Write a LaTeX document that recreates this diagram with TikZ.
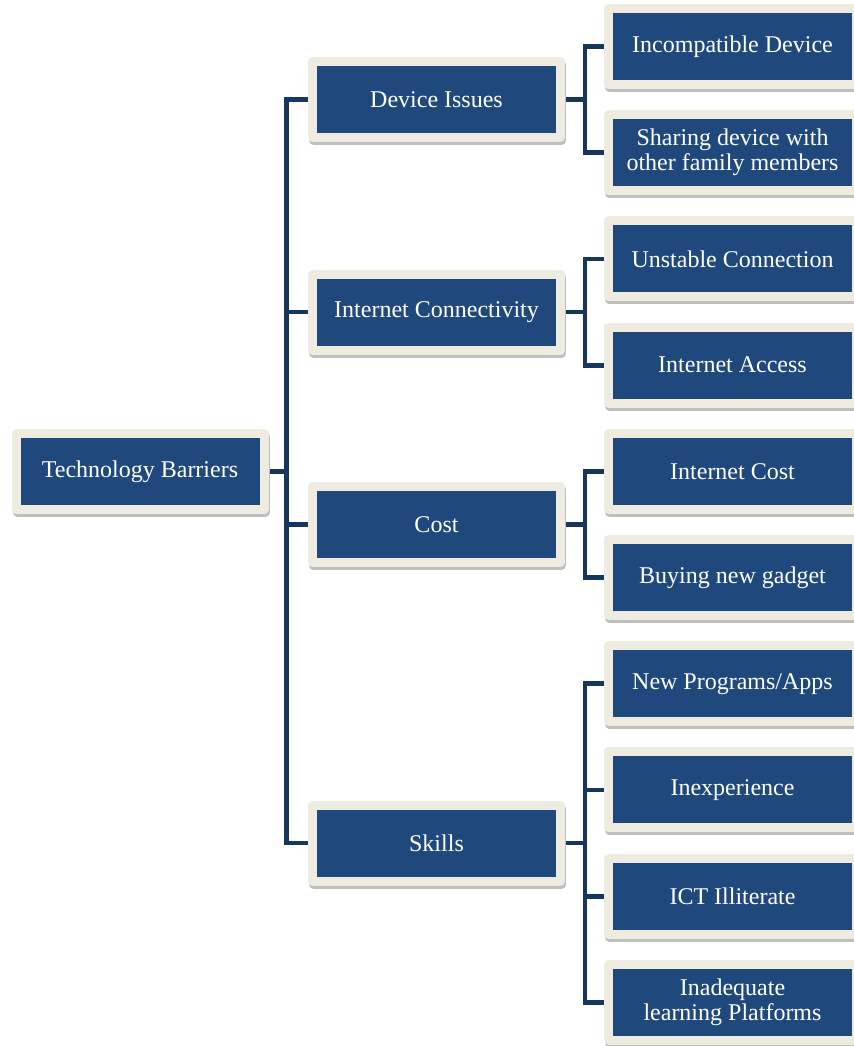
\documentclass[tikz,border=0pt]{standalone}
\usepackage{fontspec}
\setmainfont{Liberation Serif}
\newfontfamily\boxfont{Liberation Serif}
\usetikzlibrary{calc}
\usetikzlibrary{backgrounds}
\definecolor{boxblue}{HTML}{1F497D}
\definecolor{boxrim}{HTML}{EEECE1}
\definecolor{linkblue}{HTML}{17365D}
\tikzset{
  item/.style={fill=boxblue, draw=boxrim, line width=4.5pt, line join=round,
    minimum width=124pt, minimum height=38pt, inner sep=0pt,
    text=white, align=center, font=\boxfont\fontsize{12}{12.5}\selectfont,
    preaction={draw=black!25, fill=black!25, line width=4.5pt, line join=round,
      transform canvas={xshift=0.5pt, yshift=-1.5pt}}},
  link/.style={draw=linkblue, line width=2.4pt}
}

\begin{document}
\begin{tikzpicture}[x=0.5pt, y=-0.5pt]
        \useasboundingbox (0,0) rectangle (854,1046);
        \node[item] (root)   at (140.0, 471.5) {Technology Barriers};
        \node[item] (device) at (436.5,  99.6) {Device Issues};
        \node[item] (inet)   at (436.5, 312.0) {Internet Connectivity};
        \node[item] (cost)   at (436.5, 524.4) {Cost};
        \node[item] (skill)  at (436.5, 843.0) {Skills};
        \node[item] (incomp) at (732.5,  46.5) {Incompatible Device};
        \node[item] (share)  at (732.5, 152.7) {Sharing device with\\other family members};
        \node[item] (unstab) at (732.5, 258.9) {Unstable Connection};
        \node[item] (access) at (732.5, 365.1) {Internet Access};
        \node[item] (icost)  at (732.5, 471.3) {Internet Cost};
        \node[item] (gadget) at (732.5, 577.5) {Buying new gadget};
        \node[item] (apps)   at (732.5, 683.7) {New Programs/Apps};
        \node[item] (inexp)  at (732.5, 789.9) {Inexperience};
        \node[item] (illit)  at (732.5, 896.1) {ICT Illiterate};
        \node[item] (platf)  at (732.5,1002.3) {Inadequate\\learning Platforms};
        \begin{scope}[on background layer]
        \foreach \p in {device,inet,cost,skill}
            \draw[link] (root.east) -- ++(18,0) |- (\p.west);
        \foreach \p/\c in {device/incomp, device/share, inet/unstab, inet/access,
                           cost/icost, cost/gadget, skill/apps, skill/inexp,
                           skill/illit, skill/platf}
            \draw[link] (\p.east) -- ++(20,0) |- (\c.west);
        \end{scope}
    \end{tikzpicture}
\end{document}
